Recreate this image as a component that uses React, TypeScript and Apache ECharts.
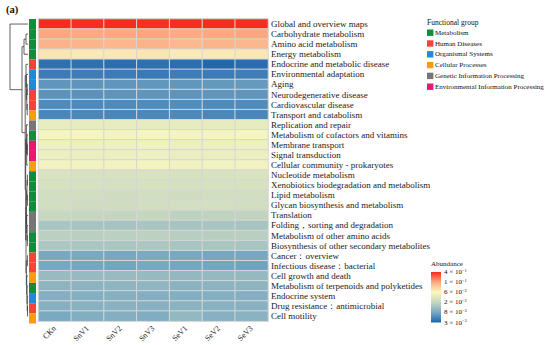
import React, { useEffect, useRef } from 'react';
import * as echarts from 'echarts';

const samples = ['CKn', 'SnV1', 'SnV2', 'SnV3', 'SeV1', 'SeV2', 'SeV3'];

const pathways = [
  'Global and overview maps',
  'Carbohydrate metabolism',
  'Amino acid metabolism',
  'Energy metabolism',
  'Endocrine and metabolic disease',
  'Environmental adaptation',
  'Aging',
  'Neurodegenerative disease',
  'Cardiovascular disease',
  'Transport and catabolism',
  'Replication and repair',
  'Metabolism of cofactors and vitamins',
  'Membrane transport',
  'Signal transduction',
  'Cellular community - prokaryotes',
  'Nucleotide metabolism',
  'Xenobiotics biodegradation and metabolism',
  'Lipid metabolism',
  'Glycan biosynthesis and metabolism',
  'Translation',
  'Folding，sorting and degradation',
  'Metabolism of other amino acids',
  'Biosynthesis of other secondary metabolites',
  'Cancer：overview',
  'Infectious disease：bacterial',
  'Cell growth and death',
  'Metabolism of terpenoids and polyketides',
  'Endocrine system',
  'Drug resistance：antimicrobial',
  'Cell motility',
];

const groups = [
  'Metabolism',
  'Human Diseases',
  'Organismal Systems',
  'Cellular Processes',
  'Genetic Information Processing',
  'Environmental Information Processing',
];
const groupColors = ['#0c8f3a', '#f4433a', '#1a8ce0', '#fb9d0a', '#767676', '#e9176e'];

// group index for each pathway (same order as pathways)
const pathwayGroup = [
  0, 0, 0, 0, 1, 2, 2, 1, 1, 3,
  4, 0, 5, 5, 3, 0, 0, 0, 0, 4,
  4, 0, 0, 1, 1, 3, 0, 2, 1, 3,
];

// relative abundance, rows = pathways, columns = samples
const abundance: number[][] = [
  [0.385, 0.378, 0.382, 0.376, 0.38, 0.383, 0.379],
  [0.101, 0.099, 0.1, 0.102, 0.098, 0.1, 0.101],
  [0.093, 0.092, 0.091, 0.093, 0.09, 0.092, 0.091],
  [0.068, 0.066, 0.067, 0.068, 0.065, 0.066, 0.067],
  [0.0036, 0.0036, 0.0035, 0.0036, 0.0035, 0.0032, 0.0034],
  [0.0042, 0.0043, 0.0042, 0.0041, 0.0043, 0.0042, 0.0044],
  [0.0062, 0.0061, 0.0062, 0.0063, 0.0063, 0.0064, 0.0065],
  [0.0059, 0.0058, 0.006, 0.0061, 0.006, 0.0062, 0.0061],
  [0.0052, 0.0051, 0.0052, 0.0053, 0.0054, 0.0052, 0.0053],
  [0.0049, 0.005, 0.0049, 0.005, 0.0051, 0.005, 0.0049],
  [0.041, 0.04, 0.041, 0.04, 0.039, 0.04, 0.039],
  [0.054, 0.055, 0.053, 0.054, 0.052, 0.053, 0.054],
  [0.046, 0.045, 0.046, 0.047, 0.044, 0.045, 0.046],
  [0.045, 0.044, 0.045, 0.046, 0.043, 0.044, 0.045],
  [0.051, 0.05, 0.051, 0.052, 0.049, 0.05, 0.051],
  [0.03, 0.029, 0.029, 0.03, 0.028, 0.029, 0.03],
  [0.028, 0.028, 0.027, 0.028, 0.027, 0.028, 0.028],
  [0.025, 0.025, 0.024, 0.025, 0.024, 0.025, 0.025],
  [0.025, 0.024, 0.024, 0.025, 0.026, 0.026, 0.025],
  [0.0205, 0.02, 0.0195, 0.02, 0.018, 0.0185, 0.019],
  [0.014, 0.0138, 0.0136, 0.014, 0.0139, 0.0142, 0.0138],
  [0.0176, 0.0172, 0.0174, 0.0178, 0.0168, 0.017, 0.0172],
  [0.0146, 0.0143, 0.0144, 0.0147, 0.0142, 0.0144, 0.0141],
  [0.0081, 0.008, 0.0079, 0.0082, 0.008, 0.0078, 0.0079],
  [0.0079, 0.0078, 0.0077, 0.008, 0.0078, 0.0077, 0.0074],
  [0.0115, 0.0113, 0.0116, 0.0114, 0.011, 0.0111, 0.0112],
  [0.0102, 0.01, 0.0101, 0.0103, 0.0099, 0.01, 0.0101],
  [0.0092, 0.0091, 0.0093, 0.0092, 0.009, 0.0091, 0.0092],
  [0.0094, 0.0096, 0.0097, 0.0095, 0.0099, 0.0096, 0.0097],
  [0.0082, 0.009, 0.0092, 0.0089, 0.011, 0.0095, 0.0098],
];

// colour scale break values and labels (mantissa, exponent)
const colorTicks = [3e-3, 8e-3, 2e-2, 6e-2, 1e-1, 4e-1];
const colorTickLabels: [string, string][] = [
  ['3', '−3'], ['8', '−3'], ['2', '−2'], ['6', '−2'], ['1', '−1'], ['4', '−1'],
];
const rampColors = ['#1c64ae', '#78a8c2', '#c6d7c0', '#faf8c0', '#fca880', '#f42a1c'];

// row clustering tree: [left, right, height]; leaves are row indices
type Node = number | [Node, Node, number];
const dendrogram: Node = [
  0,
  [
    [[1, 2, 2], 3, 4],
    [
      [4, [5, [[6, 7, 0.8], [8, 9, 0.8], 1.2], 1.6], 2.0],
      [
        [10, [[11, [12, 13, 0.6], 1.0], 14, 1.3], 1.6],
        [
          [[[15, 16, 0.6], [17, 18, 0.6], 1.0], [19, [20, [21, 22, 0.6], 1.0], 1.3], 1.6],
          [[23, 24, 0.6], [25, [26, [27, [28, 29, 0.5], 0.8], 1.0], 1.3], 1.7],
          2.0,
        ],
        2.3,
      ],
      2.8,
    ],
    6,
  ],
  18,
];

const FONT = "'Liberation Serif', 'Times New Roman', serif";

function toPos(v: number): number {
  const L = colorTicks.map(Math.log);
  const lv = Math.log(v);
  if (lv <= L[0]) return 0;
  for (let i = 0; i < L.length - 1; i++) {
    if (lv <= L[i + 1]) return i + (lv - L[i]) / (L[i + 1] - L[i]);
  }
  return L.length - 1;
}

export default function App() {
  const ref = useRef<HTMLDivElement>(null);

  useEffect(() => {
    document.body.style.margin = '0';
    if (!ref.current) return;
    const chart = echarts.init(ref.current, undefined, { renderer: 'svg' });

    const heatData: number[][] = [];
    abundance.forEach((row, yi) =>
      row.forEach((v, xi) => heatData.push([xi, yi, toPos(v)]))
    );

    const gridTop = 19;
    const gridBottom = 21.5;

    chart.setOption({
      animation: false,
      grid: [
        { left: 38.5, right: 282, top: gridTop, bottom: gridBottom },
        { left: 29, width: 7, top: gridTop, bottom: gridBottom },
      ],
      xAxis: [
        {
          type: 'category',
          data: samples,
          gridIndex: 0,
          axisLine: { show: false },
          axisTick: { show: false },
          splitLine: { show: false },
          axisLabel: {
            interval: 0,
            rotate: 45,
            fontSize: 8,
            fontFamily: FONT,
            color: '#222',
            margin: 6,
          },
        },
        { type: 'value', gridIndex: 1, min: 0, max: 1, show: false },
      ],
      yAxis: [
        {
          type: 'category',
          data: pathways,
          gridIndex: 0,
          inverse: true,
          position: 'right',
          axisLine: { show: false },
          axisTick: { show: false },
          splitLine: { show: false },
          axisLabel: {
            interval: 0,
            fontSize: 9,
            fontFamily: FONT,
            color: '#1a1a1a',
            margin: 3,
          },
        },
        {
          type: 'category',
          data: pathways,
          gridIndex: 1,
          inverse: true,
          show: false,
        },
      ],
      visualMap: {
        show: false,
        type: 'continuous',
        min: 0,
        max: colorTicks.length - 1,
        dimension: 2,
        seriesIndex: 0,
        inRange: { color: rampColors },
      },
      series: [
        {
          type: 'heatmap',
          xAxisIndex: 0,
          yAxisIndex: 0,
          data: heatData,
          itemStyle: { borderColor: '#d6d6d6', borderWidth: 1 },
          emphasis: { disabled: true },
        },
        {
          type: 'bar',
          xAxisIndex: 1,
          yAxisIndex: 1,
          barWidth: '100%',
          barCategoryGap: '0%',
          data: pathwayGroup.map((g) => ({ value: 1, itemStyle: { color: groupColors[g] } })),
          silent: true,
        },
      ],
    });

    // dendrogram from tree structure, positioned by the axis scale
    const rowY = pathways.map((_, i) => chart.convertToPixel({ yAxisIndex: 0 }, i) as number);
    const leafX = (chart.convertToPixel({ xAxisIndex: 1 }, 0) as number) - 1;
    const scale = 1;
    const lines: any[] = [];
    const walk = (n: Node): { x: number; y: number } => {
      if (typeof n === 'number') return { x: leafX, y: rowY[n] };
      const a = walk(n[0]);
      const b = walk(n[1]);
      const x = leafX - n[2] * scale;
      lines.push({
        type: 'polyline',
        shape: { points: [[a.x, a.y], [x, a.y], [x, b.y], [b.x, b.y]] },
        style: { stroke: '#3a3a3a', lineWidth: 0.8, fill: null },
        silent: true,
      });
      return { x, y: (a.y + b.y) / 2 };
    };
    walk(dendrogram);

    const legendX = 427;
    const legendTop = 32.7;
    const legendStep = 10.8;
    const legendItems: any[] = [
      {
        type: 'text',
        x: legendX,
        y: 22,
        style: { text: 'Functional group', fontSize: 7.5, fontFamily: FONT, fill: '#111', verticalAlign: 'middle' },
      },
    ];
    groups.forEach((g, i) => {
      const cy = legendTop + i * legendStep;
      legendItems.push({
        type: 'rect',
        shape: { x: legendX, y: cy - 3.2, width: 6.4, height: 6.4 },
        style: { fill: groupColors[i] },
      });
      legendItems.push({
        type: 'text',
        x: legendX + 8,
        y: cy,
        style: { text: g, fontSize: 7, fontFamily: FONT, fill: '#111', verticalAlign: 'middle' },
      });
    });

    const cbX = 431;
    const cbTop = 272;
    const cbH = 50.5;
    const cbItems: any[] = [
      {
        type: 'text',
        x: cbX,
        y: 264,
        style: { text: 'Abundance', fontSize: 7, fontFamily: FONT, fill: '#111', verticalAlign: 'middle' },
      },
      {
        type: 'rect',
        shape: { x: cbX, y: cbTop, width: 10, height: cbH },
        style: {
          fill: {
            type: 'linear',
            x: 0, y: 1, x2: 0, y2: 0,
            colorStops: rampColors.map((c, i) => ({ offset: i / (rampColors.length - 1), color: c })),
          },
        },
      },
    ];
    colorTickLabels.forEach(([m, e], i) => {
      const y = cbTop + cbH - (i * cbH) / (colorTickLabels.length - 1);
      cbItems.push({
        type: 'text',
        x: cbX + 13,
        y,
        style: {
          text: `{n|${m} × 10}{s|${e}}`,
          verticalAlign: 'middle',
          rich: {
            n: { fontSize: 7, fontFamily: FONT, fill: '#111', lineHeight: 9 },
            s: { fontSize: 4.5, fontFamily: FONT, fill: '#111', verticalAlign: 'top', lineHeight: 9, padding: [0, 0, 3, 0] },
          },
        },
      });
    });

    chart.setOption({
      graphic: [
        {
          type: 'text',
          x: 6,
          y: 9,
          style: { text: '(a)', fontSize: 10.5, fontWeight: 'bold', fontFamily: FONT, fill: '#111', verticalAlign: 'middle' },
        },
        ...lines,
        ...legendItems,
        ...cbItems,
      ],
    });

    return () => chart.dispose();
  }, []);

  return <div ref={ref} style={{ width: 550, height: 345 }} />;
}
